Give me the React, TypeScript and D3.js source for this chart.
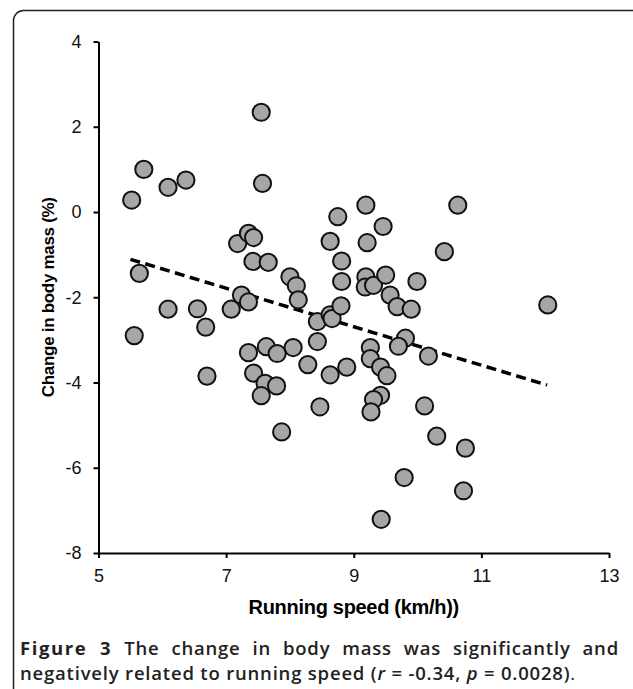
import React, { useEffect, useRef } from "react";
import * as d3 from "d3";

// running speed (km/h) and change in body mass (%)
const speed = [
  5.52, 5.71, 6.09, 6.37, 5.64, 5.56, 6.09, 6.55, 6.68, 6.7, 7.08, 7.18, 7.35, 7.43, 7.42,
  7.66, 7.24, 7.35, 7.55, 7.57, 8.0, 8.1, 8.13, 7.35, 7.63, 7.8, 8.05, 8.28, 7.43, 7.61,
  7.79, 7.55, 7.87, 8.47, 8.43, 8.43, 8.63, 8.66, 8.63, 8.89, 8.75, 8.63, 8.81, 8.81, 8.8,
  9.19, 9.21, 9.19, 9.18, 9.31, 9.46, 9.5, 9.57, 9.68, 9.9, 9.99, 10.42, 10.63, 12.04, 9.81,
  9.7, 9.26, 9.26, 9.42, 9.52, 10.17, 9.42, 9.31, 9.27, 10.11, 10.3, 10.75, 9.79, 10.72, 9.43,
];
const massChange = [
  0.28, 1.0, 0.58, 0.75, -1.44, -2.9, -2.28, -2.27, -2.7, -3.85, -2.28, -0.74, -0.5, -0.6, -1.16,
  -1.18, -1.95, -2.11, 2.34, 0.67, -1.52, -1.73, -2.06, -3.3, -3.16, -3.32, -3.18, -3.58, -3.78, -4.02,
  -4.08, -4.31, -5.16, -4.57, -2.57, -3.04, -2.41, -2.5, -3.82, -3.64, -0.11, -0.69, -1.15, -1.63, -2.2,
  0.16, -0.72, -1.52, -1.76, -1.72, -0.34, -1.48, -1.95, -2.22, -2.28, -1.63, -0.93, 0.16, -2.18, -2.96,
  -3.15, -3.18, -3.44, -3.64, -3.84, -3.38, -4.3, -4.4, -4.69, -4.55, -5.26, -5.54, -6.23, -6.54, -7.21,
];
// end points of the dashed regression line
const trendX = [5.5, 12.03];
const trendY = [-1.11, -4.06];

const xTicks = [5, 7, 9, 11, 13];
const yTicks = [4, 2, 0, -2, -4, -6, -8];

const App = () => {
  const chartRef = useRef(null);

  useEffect(() => {
    const width = 633;
    const height = 689;
    const el = chartRef.current;
    d3.select(el).select("svg").remove();

    const svg = d3
      .select(el)
      .append("svg")
      .attr("width", width)
      .attr("height", height)
      .style("position", "absolute")
      .style("left", 0)
      .style("top", 0)
      .style("background", "#fff");

    // figure frame
    svg
      .append("rect")
      .attr("x", 13.5)
      .attr("y", 10.5)
      .attr("width", 630)
      .attr("height", 720)
      .attr("rx", 10)
      .attr("fill", "none")
      .attr("stroke", "#222")
      .attr("stroke-width", 1.5);

    const x = d3.scaleLinear().domain([5, 13]).range([98.5, 609]);
    const y = d3.scaleLinear().domain([-8, 4]).range([553, 41.5]);

    const font = "Arial, 'Liberation Sans', sans-serif";
    const fmt = (d) => `${d}`;

    const xAxis = svg
      .append("g")
      .attr("transform", `translate(0, ${y(-8)})`)
      .call(d3.axisBottom(x).tickValues(xTicks).tickFormat(fmt).tickSize(5).tickSizeOuter(0).tickPadding(11));
    const yAxis = svg
      .append("g")
      .attr("transform", `translate(${x(5)}, 0)`)
      .call(d3.axisLeft(y).tickValues(yTicks).tickFormat(fmt).tickSize(5).tickSizeOuter(0).tickPadding(12));

    [xAxis, yAxis].forEach((g) => {
      g.select(".domain").attr("stroke", "#000").attr("stroke-width", 2);
      g.selectAll(".tick line").attr("stroke", "#000").attr("stroke-width", 2);
      g.selectAll(".tick text")
        .attr("fill", "#111")
        .style("font-family", font)
        .style("font-size", "18px");
    });

    // axis titles
    svg
      .append("text")
      .attr("x", (x(5) + x(13)) / 2)
      .attr("y", 614)
      .attr("text-anchor", "middle")
      .style("font-family", font)
      .style("font-weight", "bold")
      .style("font-size", "20px")
      .style("letter-spacing", "-0.3px")
      .text("Running speed (km/h))");

    svg
      .append("text")
      .attr("transform", `translate(54, ${(y(4) + y(-8)) / 2}) rotate(-90)`)
      .attr("text-anchor", "middle")
      .style("font-family", font)
      .style("font-weight", "bold")
      .style("font-size", "17px")
      .style("letter-spacing", "-0.3px")
      .text("Change in body mass (%)");

    // dashed trend line
    svg
      .append("line")
      .attr("x1", x(trendX[0]))
      .attr("y1", y(trendY[0]))
      .attr("x2", x(trendX[1]))
      .attr("y2", y(trendY[1]))
      .attr("stroke", "#000")
      .attr("stroke-width", 3.5)
      .attr("stroke-dasharray", "10,5.5");

    svg
      .append("g")
      .selectAll("circle")
      .data(speed.map((s, i) => ({ s, m: massChange[i] })))
      .enter()
      .append("circle")
      .attr("cx", (d) => x(d.s))
      .attr("cy", (d) => y(d.m))
      .attr("r", 8.6)
      .attr("fill", "#a6a6a6")
      .attr("stroke", "#111")
      .attr("stroke-width", 2);

    // caption
    const capFont = "'Open Sans', 'Noto Sans', sans-serif";
    const capLine = (yy) =>
      svg
        .append("text")
        .attr("x", 20)
        .attr("y", yy)
        .style("font-family", capFont)
        .style("font-size", "18.5px")
        .style("font-weight", 600)
        .attr("fill", "#222");

    const line2 = capLine(680);
    line2.append("tspan").text("negatively related to running speed (");
    line2.append("tspan").style("font-style", "italic").text("r");
    line2.append("tspan").text(" = -0.34, ");
    line2.append("tspan").style("font-style", "italic").text("p");
    line2.append("tspan").text(" = 0.0028)");
    line2.append("tspan").style("font-weight", 400).text(".");
    const n2 = line2.node().textContent.length;
    const w2 = line2.node().getComputedTextLength();
    const ls = Math.max(0, (556 - w2) / n2);
    line2.style("letter-spacing", `${ls}px`);

    const line1 = capLine(655).style("letter-spacing", `${ls}px`);
    line1.append("tspan").style("font-weight", "bold").style("letter-spacing", `${ls + 0.8}px`).text("Figure 3");
    line1.append("tspan").text(" The change in body mass was significantly and");
    // justify the first line
    const w1 = line1.node().getComputedTextLength();
    const spaces = line1.node().textContent.split(" ").length - 1;
    line1.style("word-spacing", `${(619 - 20 - w1) / spaces}px`);
  }, []);

  return <div ref={chartRef}></div>;
};

export default App;
